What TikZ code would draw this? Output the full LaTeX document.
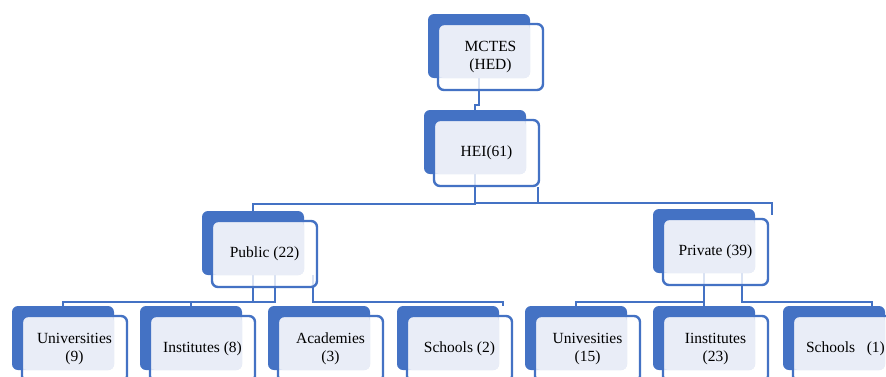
\documentclass[tikz,border=0pt]{standalone}
\usepackage{fontspec}
\setmainfont{Liberation Serif}
\usetikzlibrary{calc,backgrounds}
\definecolor{sablue}{HTML}{4472C4}
\definecolor{salight}{HTML}{E9EDF7}
\tikzset{
  backbox/.style={fill=sablue, rounded corners=6pt, minimum width=102pt,
    minimum height=64pt, inner sep=0pt, draw=none},
  frontbox/.style={draw=sablue, line width=2.4pt, fill=white, fill opacity=0.8,
    text opacity=1, rounded corners=6pt, minimum width=105pt, minimum height=66pt,
    inner sep=0pt, align=center, text=black,
    font=\fontsize{15.5}{17.7}\selectfont,
    path picture={\fill[salight, fill opacity=1, rounded corners=5pt]
      (path picture bounding box.north west) rectangle ++(92pt,-54pt);}},
  conn/.style={draw=sablue, line width=2pt}
}
\newcommand{\orgbox}[4]{%
  \node[backbox] (#1-b) at (#2+51, #3+32) {};
  \node[frontbox] (#1) at (#2+62.5, #3+43) {#4};
}
\begin{document}
\begin{tikzpicture}[x=1pt,y=-1pt]
\useasboundingbox (0,0) rectangle (886,376);
% nodes
\orgbox{mctes}{428}{14}{MCTES\\(HED)}
\orgbox{hei}{424}{110}{HEI(61)}
\orgbox{public}{202}{211}{Public (22)}
\orgbox{private}{653}{209}{Private (39)}
\orgbox{uni9}{12}{306}{Universities\\(9)}
\orgbox{inst8}{140}{306}{Institutes (8)}
\orgbox{acad3}{268}{306}{Academies\\(3)}
\orgbox{sch2}{397}{306}{Schools (2)}
\orgbox{uni15}{525}{306}{Univesities\\(15)}
\orgbox{inst23}{653}{306}{Iinstitutes\\(23)}
\orgbox{sch1}{783}{306}{Schools~~~(1)}
% connectors
\begin{scope}[on background layer]
\fill[white] (0,0) rectangle (886,376);
\draw[conn] (mctes-b.south) |- ($(hei-b.north)+(0,-5)$) -- (hei-b.north);
\draw[conn] (hei-b.south) |- ($(public-b.north)+(0,-7)$) -- (public-b.north);
\draw[conn] (hei-b.south) |- ($(private.north east)+(3,-15)$);
\draw[conn] ($(hei.south east)+(-2,0)$) |- ($(private.north east)+(3,-15)$) -- ($(private.north east)+(3,-3)$);
\draw[conn] (public-b.south) |- ($(uni9-b.north)+(0,-4)$) -- (uni9-b.north);
\draw[conn] ($(public-b.south)+(22,0)$) |- ($(inst8-b.north)+(0,-4)$) -- (inst8-b.north);
\draw[conn] ($(public-b.south)+(60,0)$) |- ($(sch2-b.north)+(55,-4)$) -- ($(sch2-b.north)+(55,0)$);
\draw[conn] (private-b.south) |- ($(uni15-b.north)+(0,-4)$) -- (uni15-b.north);
\draw[conn] (private-b.south) -- (inst23-b.north);
\draw[conn] ($(private-b.south)+(38,0)$) |- ($(sch1-b.north)+(38,-4)$) -- ($(sch1-b.north)+(38,0)$);
\end{scope}
\end{tikzpicture}
\end{document}
